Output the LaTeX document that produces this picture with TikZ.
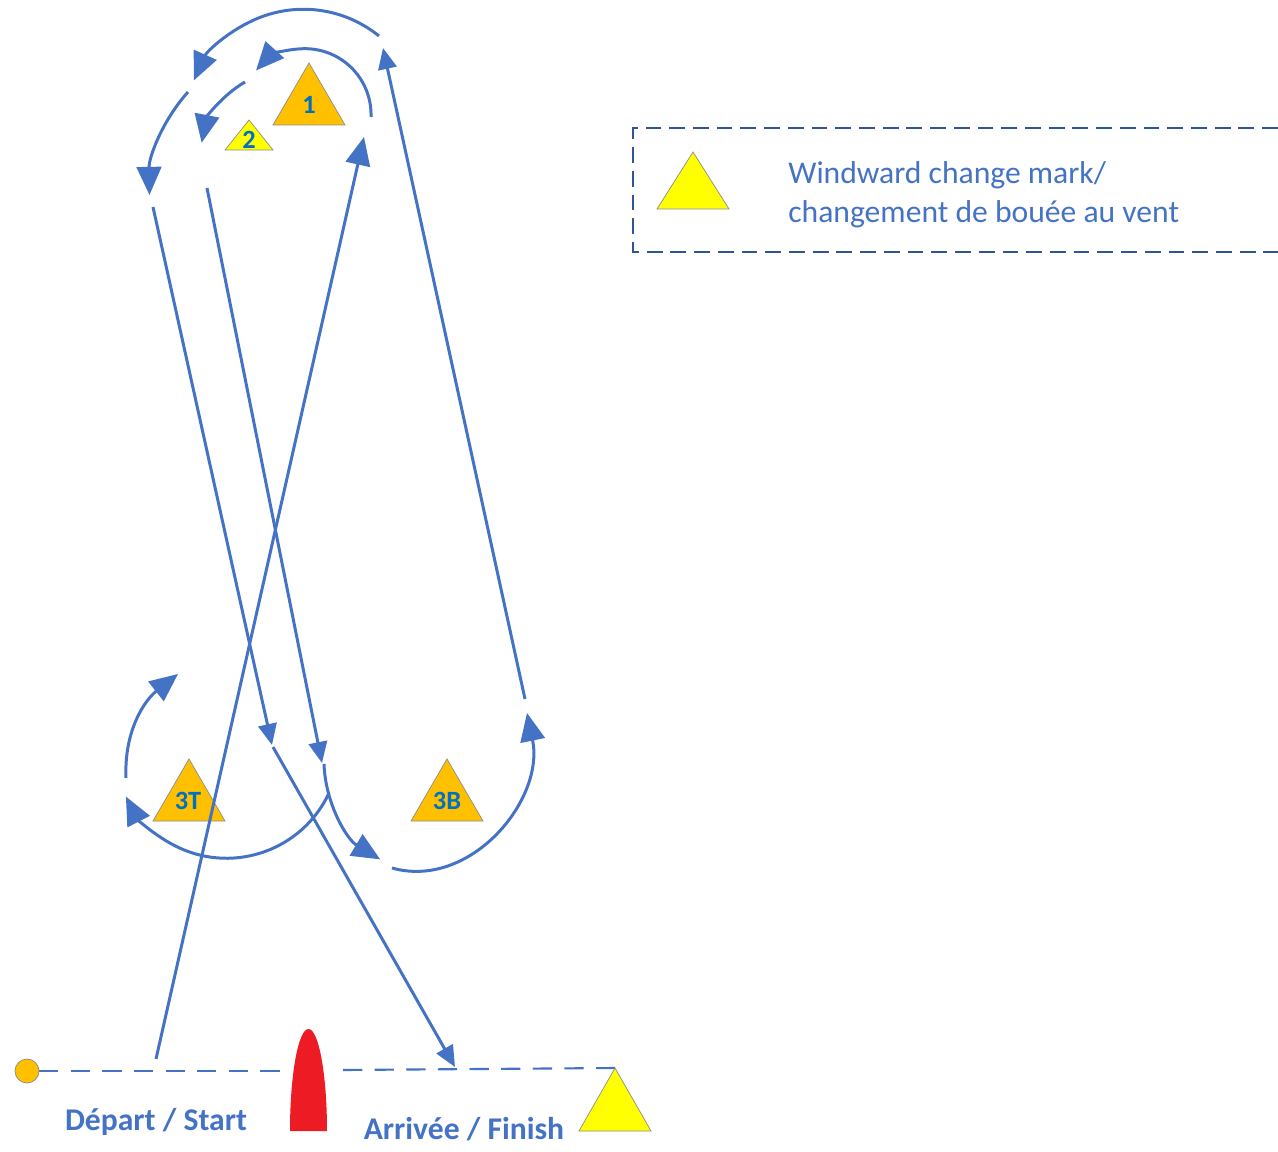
\documentclass[tikz,border=0pt]{standalone}
\usepackage{fontspec}
\setmainfont{Carlito}
\usetikzlibrary{arrows.meta}

\definecolor{lineblue}{HTML}{4472C4}
\definecolor{boxblue}{HTML}{2F5597}
\definecolor{markorange}{HTML}{FFC000}
\definecolor{markyellow}{HTML}{FFFF00}
\definecolor{labelblue}{HTML}{0070C0}
\definecolor{boatred}{HTML}{ED1C24}
\definecolor{rimgrey}{HTML}{8C8C8C}

\tikzset{
  course/.style={draw=lineblue, line width=1.7pt},
  bigtip/.style={-{Triangle[length=16pt,width=14pt]}},
  smalltip/.style={-{Triangle[length=12pt,width=10.5pt]}},
  marklabel/.style={text=labelblue, inner sep=0pt, font=\bfseries\fontsize{15}{18}\selectfont},
  legendtext/.style={text=lineblue, anchor=base west, inner sep=0pt, font=\fontsize{18}{22}\selectfont},
  linetext/.style={text=lineblue, anchor=base, inner sep=0pt, font=\bfseries\fontsize{18}{22}\selectfont},
}

% apex x, apex y, half base, height, fill
\newcommand{\buoy}[5]{%
  \filldraw[fill=#5, draw=rimgrey, line width=0.4pt] (#1,#2) -- ++(#3,#4) -- ++({-2*#3},0) -- cycle;}

\begin{document}
\begin{tikzpicture}[x=0.02cm, y=-0.02cm]
  \useasboundingbox (0,0) rectangle (1278,1152);

  % marks
  \buoy{309}{63}{36}{62}{markorange}
  \buoy{249}{120}{24}{30}{markyellow}
  \buoy{189}{759}{36}{62}{markorange}
  \buoy{447}{759}{36}{62}{markorange}
  \node[marklabel] (m1) at (309,105) {1};
  \node[marklabel] (m2) at (249,140) {2};
  \node[marklabel] (m3T) at (188,801) {3T};
  \node[marklabel] (m3B) at (447,801) {3B};

  % start / finish line
  \coordinate (pin) at (27,1071);
  \coordinate (boatL) at (290,1071);
  \coordinate (boatR) at (343,1070);
  \coordinate (finish) at (615,1068);
  \draw[lineblue, line width=1.2pt, dash pattern=on 11pt off 7pt] (pin) ++(12,0) -- (boatL);
  \draw[lineblue, line width=1.2pt, dash pattern=on 11pt off 7pt] (boatR) -- (finish);
  \filldraw[fill=markorange, draw=rimgrey, line width=0.4pt] (pin) circle[radius=12];
  \fill[boatred] (290,1131) arc[start angle=180, end angle=360, x radius=18.5, y radius=102] -- cycle;
  \buoy{615}{1068}{36}{63}{markyellow}
  \node[linetext] (start) at (156,1130) {Départ / Start};
  \node[linetext] (arrivee) at (464,1139) {Arrivée / Finish};

  % course legs
  \coordinate (A0) at (156,1059);
  \coordinate (A1) at (364,137);
  \coordinate (B0) at (207,188);
  \coordinate (B1) at (322,763);
  \coordinate (C0) at (525,699);
  \coordinate (C1) at (383,48);
  \coordinate (D0) at (153,207);
  \coordinate (D1) at (272,745);
  \coordinate (E0) at (273,747);
  \coordinate (E1) at (455,1067);

  \draw[course, bigtip] (A0) -- (A1);
  \draw[course, smalltip] (B0) -- (B1);
  \draw[course, smalltip] (C0) -- (C1);
  \draw[course, smalltip] (D0) -- (D1);
  \draw[course, smalltip] (E0) -- (E1);

  % roundings
  \draw[course, bigtip] (371,117) arc[start angle=2, end angle=-138, radius=66];
  \draw[course, bigtip] (245,82) arc[start angle=-120, end angle=-169, radius=90];
  \draw[course, bigtip] (379,36) arc[start angle=-51, end angle=-156, radius=120];
  \draw[course, bigtip] (188,92) arc[start angle=-138, end angle=-181, radius=150];
  \draw[course, bigtip] (324,764) arc[start angle=178, end angle=121, radius=116];
  \draw[course, bigtip] (392,868) .. controls (470,890) and (545,800) .. (527,713);
  \draw[course, bigtip] (329,793) arc[start angle=25, end angle=153, radius=113];
  \draw[course, bigtip] (126,778) .. controls (124,730) and (145,700) .. (178,674);

  % legend
  \draw[boxblue, line width=1.1pt, dash pattern=on 9pt off 4.5pt] (1278,128) -- (633,128) -- (633,252) -- (1278,252);
  \buoy{693}{152}{36}{57}{markyellow}
  \node[legendtext] (leg1) at (788,184) {Windward change mark/};
  \node[legendtext] (leg2) at (788,223) {changement de bouée au vent};
\end{tikzpicture}
\end{document}
